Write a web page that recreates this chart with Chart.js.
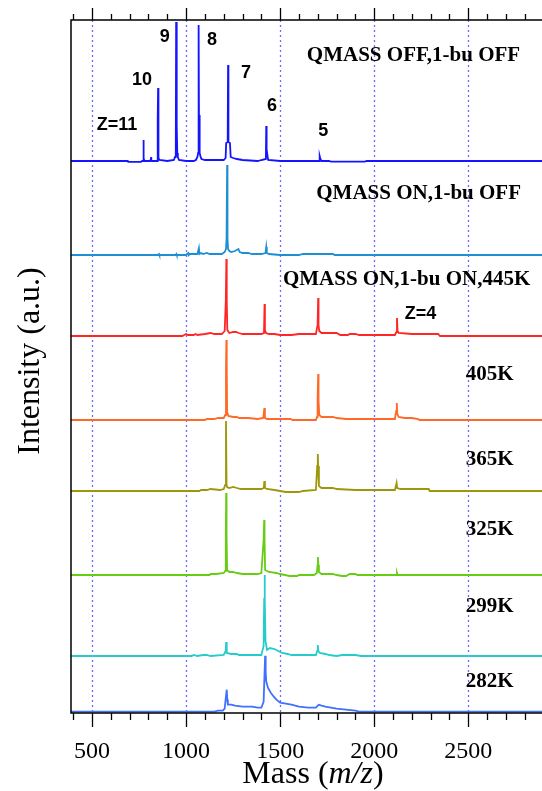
<!DOCTYPE html>
<html>
<head>
<meta charset="utf-8">
<script src="https://cdn.jsdelivr.net/npm/chart.js@4/dist/chart.umd.min.js"></script>
<style>
  html, body { margin: 0; padding: 0; background: #fff; overflow: hidden; }
</style>
</head>
<body>
<canvas id="ms" width="542" height="791"></canvas>
<script>
// spectra: [mass, intensity above the trace's own baseline]
const offOff = [[388,0],[690,0],[692,-0.8],[760,-0.8],[766,0],[771,0],[773,3],[774,21],[775,3],[778,0],[805,0],[812,1],[814,4],[815,0],
  [846,0],[848,3],[850,42],[851,73],[852,42],[854,3],[858,1],[900,0],[935,1],[941,4],[944,8],[946,8],[947,139],[949,10],[951,36],[953,8],[956,4],[962,1],
  [1000,0],[1040,0],[1052,1],[1060,4],[1064,8],[1066,8],[1067,136],[1069,10],[1071,46],[1073,8],[1077,4],[1082,2],[1100,1],[1150,1],[1200,1],
  [1210,3],[1213,18],[1221,19],[1223,96],[1225,19],[1233,18],[1237,4],[1250,3],[1270,2],[1300,1],[1380,0],[1400,1],[1424,2],[1426,35],[1428,12],
  [1432,6],[1436,1],[1500,0],[1650,0],[1708,0],[1710,5],[1714,2],[1720,0],[1760,0],[1770,-0.6],[1950,-0.6],[1960,0],[2900,0]];
const onOff = [[388,0],[850,0],[856,1],[858,0],[945,0],[948,1],[950,0],[1000,0],[1005,1],[1012,2],[1014,0],[1020,1],[1060,1],[1068,7],[1071,1],
  [1080,2],[1090,1],[1110,2],[1125,1],[1190,1],[1205,3],[1212,6],[1215,17],[1218,90],[1220,17],[1223,6],[1230,4],[1240,3],[1260,4],[1278,6],
  [1285,3],[1300,2],[1330,2],[1350,1],[1400,1],[1422,2],[1426,8],[1429,2],[1440,1],[1500,0],[1600,0],[1620,1],[1700,1],[1780,1],[1790,0],[2900,0]];
const on445 = [[388,0],[980,0],[990,1],[1000,2],[1010,1],[1040,1],[1050,2],[1060,1],[1100,2],[1130,3],[1150,2],[1190,2],[1205,5],[1211,35],
  [1214,77],[1216,35],[1219,6],[1230,3],[1250,4],[1265,4],[1280,3],[1300,2],[1350,2],[1400,2],[1414,3],[1417,32],[1419,6],[1425,3],[1440,2],
  [1470,2],[1500,1],[1560,1],[1600,2],[1690,2],[1699,11],[1702,38],[1704,11],[1708,5],[1720,3],[1800,3],[1820,1],[1860,1],[1870,2],[1900,2],
  [1920,1],[2110,1],[2118,4],[2121,18],[2124,5],[2130,3],[2200,2],[2250,2],[2340,2],[2350,0],[2900,0]];
const on405 = [[388,0],[1100,0],[1110,1],[1150,1],[1170,2],[1200,2],[1208,5],[1212,53],[1214,80],[1216,53],[1218,8],[1225,4],[1250,3],[1270,3],
  [1280,2],[1330,2],[1380,1],[1410,2],[1416,12],[1419,2],[1430,1],[1460,1],[1500,1],[1555,1],[1565,0],[1690,0],[1696,3],[1699,20],[1702,46],
  [1704,20],[1708,5],[1720,3],[1780,3],[1800,2],[1850,1],[2110,1],[2117,9],[2120,17],[2123,6],[2130,3],[2160,2],[2200,2],[2234,1],[2240,0],[2900,0]];
const on365 = [[388,0],[1070,0],[1080,1],[1110,1],[1130,2],[1180,1],[1200,2],[1208,6],[1212,70],[1215,6],[1218,4],[1230,3],[1250,4],[1270,3],
  [1290,2],[1350,2],[1400,2],[1413,3],[1416,10],[1419,3],[1430,2],[1470,1],[1500,0],[1530,-1],[1600,-1],[1620,0],[1690,1],[1697,25],[1700,37],
  [1702,25],[1706,5],[1720,3],[1780,3],[1800,2],[1900,1],[2110,1],[2119,8],[2122,3],[2140,2],[2200,2],[2290,2],[2295,0],[2900,0]];
const on325 = [[388,0],[1125,0],[1130,1],[1160,1],[1200,2],[1208,4],[1211,40],[1213,82],[1215,40],[1218,5],[1230,3],[1250,3],[1270,2],[1300,1],
  [1380,1],[1400,2],[1412,35],[1415,55],[1417,35],[1420,5],[1440,3],[1480,2],[1500,1],[1550,-1],[1590,-1],[1600,0],[1680,0],[1695,2],[1699,10],
  [1701,18],[1703,10],[1706,3],[1720,1],[1780,1],[1800,0],[1830,-1],[1850,-1],[1870,1],[1900,1],[1910,0],[2118,0],[2121,2],[2124,0],[2900,0]];
const on299 = [[388,0],[1030,0],[1040,1],[1060,0],[1090,1],[1110,1],[1130,0],[1200,1],[1210,5],[1213,14],[1216,3],[1240,2],[1270,2],[1280,1],
  [1400,1],[1412,10],[1415,57],[1417,81],[1419,57],[1422,15],[1430,6],[1445,8],[1470,7],[1490,5],[1510,3],[1540,2],[1560,1],[1690,1],[1697,5],
  [1700,11],[1703,5],[1710,3],[1740,2],[1760,1],[1800,0],[1830,1],[1900,1],[1930,0],[2900,0]];
const on282 = [[388,0],[1150,0],[1170,1],[1195,1],[1205,3],[1210,12],[1216,22],[1219,12],[1222,7],[1240,7],[1260,6],[1300,5],[1350,5],[1380,4],
  [1400,4],[1412,10],[1420,56],[1423,40],[1426,30],[1435,24],[1450,19],[1466,15],[1480,12],[1500,9],[1530,8],[1560,7],[1600,5],[1650,4],[1690,4],
  [1700,6],[1705,7],[1720,6],[1740,5],[1770,4],[1800,3],[1850,2],[1900,1],[1920,0],[2900,0]];

const spectra = [offOff, onOff, on445, on405, on365, on325, on299, on282];
const offsets = [552, 458, 377, 293, 222, 138, 57, 1.3];
const seriesNames = ['QMASS OFF,1-bu OFF', 'QMASS ON,1-bu OFF', 'QMASS ON,1-bu ON,445K', '405K', '365K', '325K', '299K', '282K'];
const chargeLabels = ['Z=11', '10', '9', '8', '7', '6', '5', 'Z=4'];
const massTicks = [500, 1000, 1500, 2000, 2500];

// where the text goes, in data units (mass, intensity)
const nameAt = [[2209,657],[2236,519],[2172,433],[2614,338],[2614,253],[2614,183],[2614,106],[2614,31]];
const chargeAt = [[633,588],[766,633],[886,676],[1138,673],[1319,640],[1457,607],[1729,582],[2246,399]];
const colors = ['#1414ff', '#1f8fd4', '#ff2626', '#ff6a26', '#9c980a', '#66cc14', '#26cccc', '#4070ff'];

const serif = '"Liberation Serif", "Times New Roman", serif';

const decor = {
  id: 'decor',
  beforeDatasetsDraw(chart) {
    const { ctx, chartArea: a, scales: { x } } = chart;
    ctx.save();
    ctx.strokeStyle = '#6b6bff';
    ctx.lineWidth = 1.3;
    ctx.setLineDash([2, 3]);
    massTicks.forEach(v => {
      const px = Math.round(x.getPixelForValue(v)) + 0.5;
      ctx.beginPath(); ctx.moveTo(px, a.top); ctx.lineTo(px, a.bottom); ctx.stroke();
    });
    ctx.restore();
  },
  afterDatasetsDraw(chart) {
    const { ctx, chartArea: a, scales: { x, y } } = chart;
    ctx.save();
    // frame
    ctx.strokeStyle = '#000';
    ctx.lineWidth = 1.5;
    ctx.beginPath();
    ctx.moveTo(a.right + 2, a.top); ctx.lineTo(a.left, a.top);
    ctx.lineTo(a.left, a.bottom); ctx.lineTo(a.right + 2, a.bottom);
    ctx.stroke();
    // ticks, top and bottom
    ctx.lineWidth = 1.3;
    for (let v = 400; v <= 2800; v += 100) {
      const px = Math.round(x.getPixelForValue(v)) + 0.5;
      const major = v % 500 === 0;
      ctx.beginPath();
      ctx.moveTo(px, a.top); ctx.lineTo(px, a.top - (major ? 12 : 6));
      ctx.moveTo(px, a.bottom); ctx.lineTo(px, a.bottom + (major ? 14 : 7));
      ctx.stroke();
    }
    // tick labels
    ctx.fillStyle = '#000';
    ctx.font = '24px ' + serif;
    ctx.textAlign = 'center';
    ctx.textBaseline = 'alphabetic';
    massTicks.forEach(v => ctx.fillText(String(v), x.getPixelForValue(v), a.bottom + 45));
    // x title with italic m/z
    const parts = [['Mass (', '32px ' + serif], ['m/z', 'italic 32px ' + serif], [')', '32px ' + serif]];
    let total = 0;
    parts.forEach(p => { ctx.font = p[1]; total += ctx.measureText(p[0]).width; });
    let cx = 313 - total / 2;
    ctx.textAlign = 'left';
    parts.forEach(p => { ctx.font = p[1]; ctx.fillText(p[0], cx, 783); cx += ctx.measureText(p[0]).width; });
    // y title
    ctx.save();
    ctx.translate(39, 361);
    ctx.rotate(-Math.PI / 2);
    ctx.textAlign = 'center';
    ctx.font = '32px ' + serif;
    ctx.fillText('Intensity (a.u.)', 0, 0);
    ctx.restore();
    // series names
    ctx.textAlign = 'center';
    ctx.textBaseline = 'middle';
    ctx.font = 'bold 21px ' + serif;
    seriesNames.forEach((t, i) => ctx.fillText(t, x.getPixelForValue(nameAt[i][0]), y.getPixelForValue(nameAt[i][1])));
    // charge states
    ctx.font = 'bold 18px "Liberation Sans", Arial, sans-serif';
    chargeLabels.forEach((t, i) => ctx.fillText(t, x.getPixelForValue(chargeAt[i][0]), y.getPixelForValue(chargeAt[i][1])));
    ctx.restore();
  }
};

new Chart(document.getElementById('ms'), {
  type: 'line',
  data: {
    datasets: spectra.map((s, i) => ({
      data: s.map(([m, v]) => ({ x: m, y: offsets[i] + v })),
      borderColor: colors[i],
      borderWidth: 1.8,
      pointRadius: 0,
      tension: 0,
      fill: false
    }))
  },
  options: {
    responsive: false,
    animation: false,
    layout: { padding: { left: 71, right: 0, top: 20, bottom: 78 } },
    plugins: { legend: { display: false }, tooltip: { enabled: false } },
    scales: {
      x: { type: 'linear', min: 388, max: 2892, display: false },
      y: { type: 'linear', min: 0, max: 693, display: false }
    }
  },
  plugins: [decor]
});
</script>
</body>
</html>
